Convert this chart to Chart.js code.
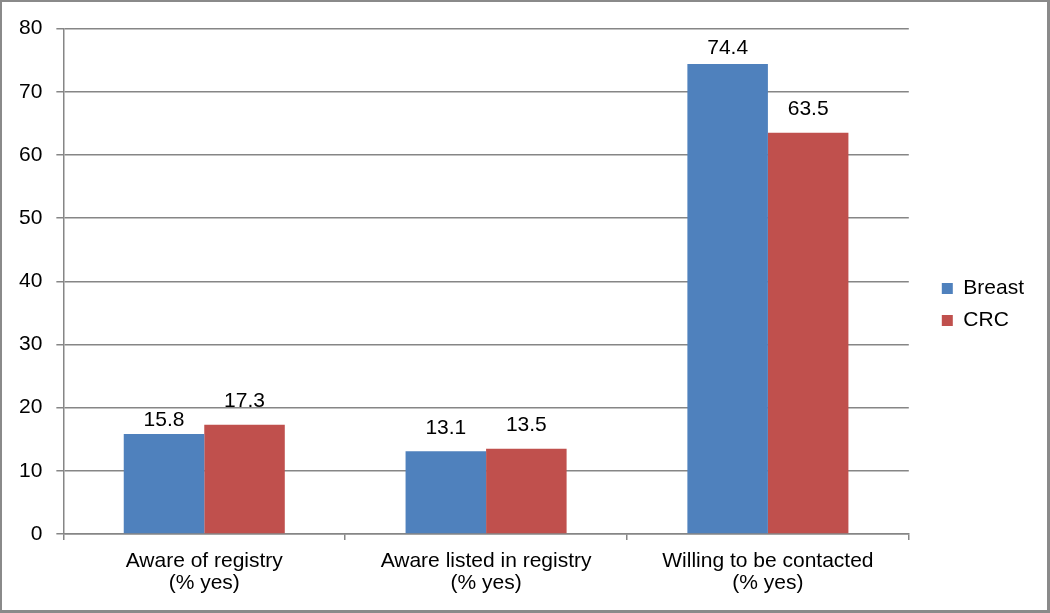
<!DOCTYPE html>
<html>
<head>
<meta charset="utf-8">
<script src="https://cdn.jsdelivr.net/npm/chart.js@4.4.0/dist/chart.umd.min.js"></script>
<style>
    html, body { margin: 0; padding: 0; background: #fff; }
    .frame {
        width: 1050px;
        height: 613px;
        box-sizing: border-box;
        border: 2px solid #8a8a8a;
        border-right-width: 3px;
        border-bottom-width: 3px;
    }
    canvas { display: block; }
</style>
</head>
<body>
<div class="frame">
    <canvas id="myChart" width="1045" height="608"></canvas>
</div>
<script>
const labels = [
    ['Aware of registry', '(% yes)'],
    ['Aware listed in registry', '(% yes)'],
    ['Willing to be contacted', '(% yes)'],
];
const breast = [15.8, 13.1, 74.4];
const crc = [17.3, 13.5, 63.5];
const yTicks = [0, 10, 20, 30, 40, 50, 60, 70, 80];

const fontFamily = "'Liberation Sans', Arial, sans-serif";

// value labels above each bar (excel had them nudged a little by hand)
const barLabels = {
    id: 'barLabels',
    afterDatasetsDraw(chart, args, opts) {
        const ctx = chart.ctx;
        ctx.save();
        ctx.font = '21px ' + fontFamily;
        ctx.fillStyle = '#000';
        ctx.textAlign = 'center';
        ctx.textBaseline = 'middle';
        chart.data.datasets.forEach((ds, i) => {
            chart.getDatasetMeta(i).data.forEach((bar, j) => {
                const off = opts.offsets[i][j];
                ctx.fillText(ds.data[j].toFixed(1), bar.x, bar.y - off);
            });
        });
        ctx.restore();
    }
};

// push the legend a bit away from the plot
const legendShift = {
    id: 'legendShift',
    afterLayout(chart) {
        const lg = chart.legend;
        lg.left += 22;
        lg.right += 22;
        lg.top -= 5;
        lg.bottom -= 5;
    }
};

const data = {
    labels: labels,
    datasets: [{
        label: 'Breast',
        backgroundColor: '#4F81BD',
        borderColor: '#4F81BD',
        data: breast,
    },{
        label: 'CRC',
        backgroundColor: '#C0504D',
        borderColor: '#C0504D',
        data: crc,
    }]
};

const config = {
    type: 'bar',
    data: data,
    plugins: [barLabels, legendShift],
    options: {
        responsive: false,
        animation: false,
        layout: {
            padding: { left: 3, top: 13, right: 35, bottom: 6 }
        },
        datasets: {
            bar: {
                categoryPercentage: 2 / 3.5,
                barPercentage: 1,
            }
        },
        scales: {
            x: {
                grid: {
                    drawOnChartArea: false,
                    color: '#868686',
                    lineWidth: 1.5,
                    tickLength: 6,
                },
                border: { color: '#868686', width: 1.5 },
                ticks: {
                    color: '#000',
                    padding: 10,
                    font: { family: fontFamily, size: 21, lineHeight: 1.05 }
                }
            },
            y: {
                min: 0,
                max: 80,
                afterBuildTicks: (axis) => {
                    axis.ticks = yTicks.map(v => ({ value: v }));
                },
                grid: {
                    color: '#868686',
                    lineWidth: 1.5,
                    tickLength: 7,
                },
                border: { color: '#868686', width: 1.5 },
                ticks: {
                    color: '#000',
                    padding: 14,
                    font: { family: fontFamily, size: 21 }
                }
            }
        },
        plugins: {
            legend: {
                position: 'right',
                labels: {
                    color: '#000',
                    boxWidth: 11,
                    boxHeight: 11,
                    padding: 11,
                    font: { family: fontFamily, size: 21 }
                }
            },
            barLabels: {
                offsets: [[14, 23, 16], [23, 23, 24]]
            },
            tooltip: { enabled: false }
        }
    }
};

const myChart = new Chart(
    document.getElementById('myChart'),
    config
);
</script>
</body>
</html>
